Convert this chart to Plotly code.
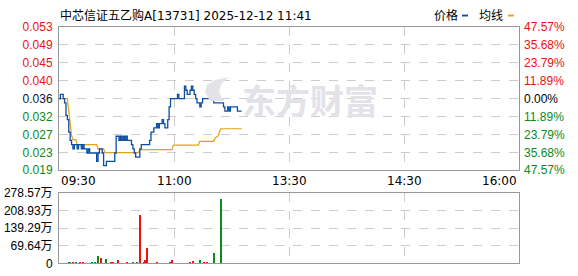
import plotly.graph_objects as go

W, H = 578, 276

title_text = "中芯信证五乙购A[13731] 2025-12-12 11:41"
time_labels = ["09:30", "11:00", "13:30", "14:30", "16:00"]
time_pos = [0, 82.5, 165, 247.5, 330]
pre_close = 0.036
pct_max = 0.4757
price_tick_labels = ["0.019", "0.023", "0.027", "0.032", "0.036", "0.040", "0.045", "0.049", "0.053"]
pct_tick_labels = ["47.57%", "35.68%", "23.79%", "11.89%", "0.00%", "11.89%", "23.79%", "35.68%", "47.57%"]
vol_tick_vals = [0, 69.64, 139.29, 208.93, 278.57]
vol_tick_labels = ["0", "69.64万", "139.29万", "208.93万", "278.57万"]

# price (minute index since 09:30, price) change points
price_min = [0, 1, 3, 4, 5, 6, 7, 8, 9, 10, 11, 13, 14, 16, 17, 18, 20, 21, 22, 27, 28, 29, 31, 32, 34,
             40, 41, 43, 44, 45, 46, 47, 48, 49, 52, 53, 54, 55, 58, 59, 65, 66, 68, 70, 71, 72, 74, 75,
             76, 78, 79, 80, 85, 86, 90, 91, 92, 94, 95, 96, 97, 98, 99, 101, 102, 103, 111, 118, 119,
             121, 122, 123, 128, 131]
price_val = [0.036, 0.037, 0.036, 0.035, 0.032, 0.031, 0.028, 0.026, 0.025, 0.024, 0.025, 0.024, 0.025,
             0.024, 0.025, 0.024, 0.023, 0.024, 0.023, 0.021, 0.023, 0.024, 0.023, 0.020, 0.021,
             0.023, 0.027, 0.026, 0.027, 0.026, 0.027, 0.026, 0.027, 0.026, 0.025, 0.024, 0.023, 0.022,
             0.024, 0.025, 0.026, 0.028, 0.029, 0.030, 0.029, 0.030, 0.031, 0.030,
             0.029, 0.031, 0.034, 0.036, 0.037, 0.036, 0.039, 0.038, 0.037, 0.038, 0.039, 0.038, 0.037,
             0.036, 0.035, 0.034, 0.035, 0.036, 0.035, 0.034, 0.033,
             0.034, 0.033, 0.034, 0.033, 0.033]

avg_min = [0, 6, 7, 8, 9, 10, 12, 13, 27, 28, 32, 33, 57, 58, 81, 82, 100, 101, 111, 112, 114, 115, 116, 131]
avg_val = [0.0360, 0.0360, 0.0330, 0.0295, 0.0272, 0.0262, 0.0262, 0.0250, 0.0250, 0.0240, 0.0240, 0.0231,
           0.0231, 0.0238, 0.0238, 0.0249, 0.0249, 0.0258, 0.0258, 0.0266, 0.0270, 0.0279, 0.0288, 0.0288]

vol_min = [7, 8, 10, 12, 15, 17, 24, 26, 28, 30, 34, 37, 39, 42, 49, 53, 56, 58, 61, 62, 63, 70, 80, 81,
           94, 96, 101, 104, 106, 111, 116]
vol_val = [4, 4, 4, 4, 4, 4, 4, 4, 30, 19, 15, 4, 4, 11, 4, 4, 4, 192, 4, 11, 60, 4, 4, 11,
           4, 7.5, 11, 4, 4, 41, 256]
vol_dir = ["g", "g", "r", "g", "r", "r", "g", "g", "g", "r", "g", "r", "r", "r", "r", "g", "g", "r", "r", "r",
           "r", "r", "r", "r", "r", "r", "g", "r", "r", "g", "g"]

# decorative watermark logo outline (pixel units of the page)
logo_x = [210, 205, 207, 215, 229, 222, 219, 221, 225, 210]
logo_y = [99, 90, 82, 77, 74, 80, 88, 95, 99, 99]

RED = "#f01010"
GREEN = "#0a8a1a"
BLUE = "#0b4ea2"
ORANGE = "#e3a01a"
GRID = "#cccccc"
BORDER = "#999999"
WM = "#e2e2e8"
FONT = "Liberation Sans, Noto Sans CJK SC, sans-serif"
TFONT = "DejaVu Sans, Noto Sans CJK SC, sans-serif"

ylo = pre_close * (1 - pct_max)
yhi = pre_close * (1 + pct_max)
tickvals = [pre_close * (1 + pct_max * k / 4) for k in range(-4, 5)]

def col_for(k):
    return RED if k > 0 else (GREEN if k < 0 else "#111133")

left_text = [f'<span style="color:{col_for(k)}">{t}</span>' for k, t in zip(range(-4, 5), price_tick_labels)]
right_text = [f'<span style="color:{col_for(k) if k != 0 else "#000000"}">{t}</span>'
              for k, t in zip(range(-4, 5), pct_tick_labels)]

fig = go.Figure()
# logo on a full-page hidden axis pair, drawn first so it lies under the lines
fig.add_trace(go.Scatter(x=logo_x, y=logo_y, mode="lines", fill="toself", fillcolor=WM,
                         line=dict(width=0, color=WM), xaxis="x3", yaxis="y4", hoverinfo="skip"))
fig.add_trace(go.Scatter(x=avg_min, y=avg_val, mode="lines", line=dict(color=ORANGE, width=1.2),
                         xaxis="x", yaxis="y", hoverinfo="skip"))
fig.add_trace(go.Scatter(x=price_min, y=price_val, mode="lines", line=dict(color=BLUE, width=1.3, shape="hv"),
                         xaxis="x", yaxis="y", hoverinfo="skip"))
fig.add_trace(go.Scatter(x=[0], y=[pre_close], mode="markers", marker=dict(opacity=0),
                         xaxis="x", yaxis="y2", hoverinfo="skip"))
fig.add_trace(go.Bar(x=vol_min, y=vol_val, width=0.75,
                     marker=dict(color=[RED if d == "r" else GREEN for d in vol_dir], line=dict(width=0)),
                     xaxis="x2", yaxis="y3", hoverinfo="skip"))

xd = [59 / W, 519 / W]
y_top = [1 - 172 / H, 1 - 21 / H]
y_vol = [1 - 270 / H, 1 - 196 / H]

axis_common = dict(showline=True, linecolor=BORDER, linewidth=1, mirror=True, zeroline=False,
                   griddash="dash", gridcolor=GRID, gridwidth=1)
hidden = dict(visible=False, showgrid=False, zeroline=False, fixedrange=True)

fig.update_layout(
    width=W, height=H, autosize=False,
    margin=dict(l=0, r=0, t=0, b=0),
    paper_bgcolor="white", plot_bgcolor="rgba(0,0,0,0)",
    showlegend=False,
    font=dict(family=FONT, size=12, color="#000000"),
    xaxis3=dict(domain=[0, 1], range=[0, W], anchor="y4", **hidden),
    yaxis4=dict(domain=[0, 1], range=[H, 0], anchor="x3", **hidden),
    xaxis=dict(domain=xd, range=[0, 330], tickvals=time_pos[1:-1], showticklabels=False, ticks="",
               showgrid=True, anchor="y", **axis_common),
    yaxis=dict(domain=y_top, range=[ylo, yhi], tickvals=tickvals, ticktext=left_text, ticks="",
               showgrid=True, anchor="x", ticklabelstandoff=3, **axis_common),
    yaxis2=dict(overlaying="y", side="right", range=[ylo, yhi], tickvals=tickvals, ticktext=right_text,
                ticks="", showgrid=False, showline=False, zeroline=False, anchor="x", ticklabelstandoff=4),
    xaxis2=dict(domain=xd, range=[0, 330], tickvals=time_pos[1:-1], showticklabels=False, ticks="",
                showgrid=True, anchor="y3", **axis_common),
    yaxis3=dict(domain=y_vol, range=[0, 278.57], tickvals=vol_tick_vals, ticktext=vol_tick_labels, ticks="",
                showgrid=True, anchor="x2", ticklabelstandoff=3, **axis_common),
    bargap=0,
)

annotations = []
annotations.append(dict(text=title_text, xref="paper", yref="paper", x=58 / W, y=1 - 9 / H,
                        xanchor="left", yanchor="middle", showarrow=False,
                        font=dict(size=12, color="#000000", family=TFONT)))
for i, (lab, pos) in enumerate(zip(time_labels, time_pos)):
    anchor = "left" if i == 0 else ("right" if i == len(time_labels) - 1 else "center")
    annotations.append(dict(text=lab, xref="x", yref="paper", x=pos, y=1 - 183 / H,
                            xanchor=anchor, yanchor="middle", showarrow=False,
                            font=dict(size=12, color="#000000", family=TFONT)))
annotations.append(dict(text="价格", xref="paper", yref="paper", x=432 / W, y=1 - 9 / H, xanchor="left",
                        yanchor="middle", showarrow=False, font=dict(size=12, color="#000000", family=FONT)))
annotations.append(dict(text="均线", xref="paper", yref="paper", x=477 / W, y=1 - 9 / H, xanchor="left",
                        yanchor="middle", showarrow=False, font=dict(size=12, color="#000000", family=FONT)))
# watermark
annotations.append(dict(text="<b>东方财富</b>", xref="paper", yref="paper", x=310 / W, y=1 - 97 / H,
                        xanchor="center", yanchor="middle", showarrow=False,
                        font=dict(size=34, color=WM, family="Noto Sans CJK SC")))
fig.update_layout(annotations=annotations)

shapes = [
    dict(type="rect", xref="paper", yref="paper", x0=462 / W, x1=468 / W, y0=1 - 10 / H, y1=1 - 8 / H,
         fillcolor=BLUE, line=dict(width=0)),
    dict(type="rect", xref="paper", yref="paper", x0=508 / W, x1=514 / W, y0=1 - 10 / H, y1=1 - 8 / H,
         fillcolor=ORANGE, line=dict(width=0)),
]
fig.update_layout(shapes=shapes)

fig.write_html("out.html")
